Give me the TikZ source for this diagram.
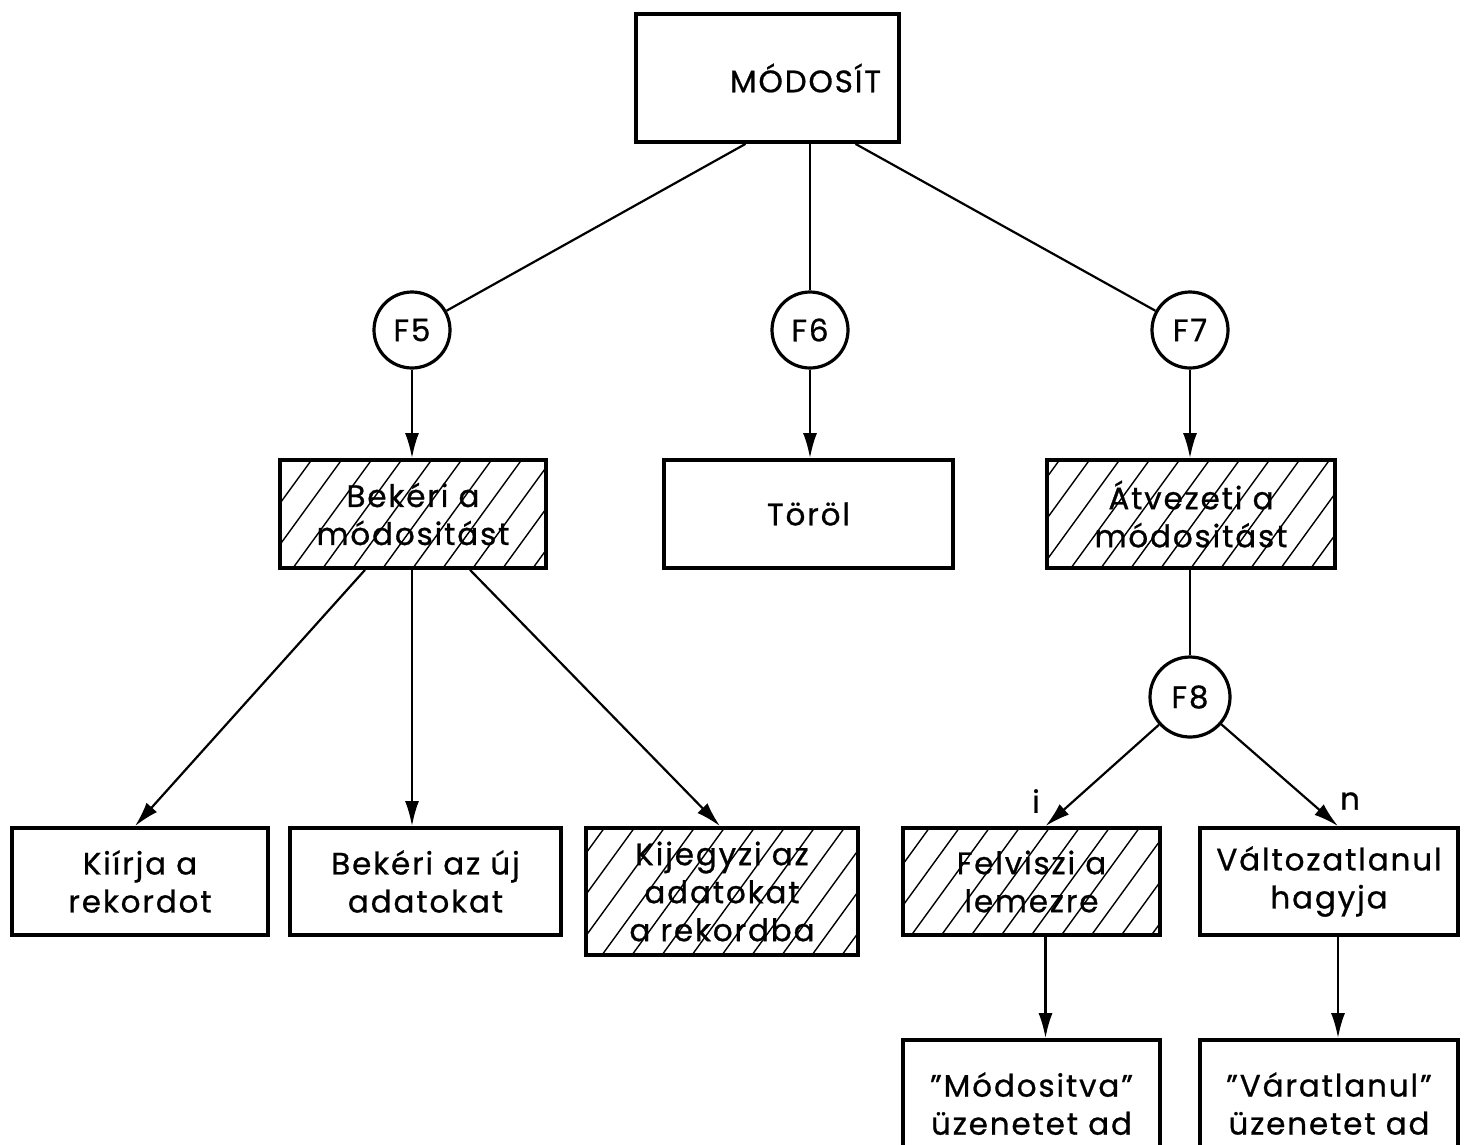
\documentclass[tikz,border=0pt]{standalone}
\usepackage{fontspec}
\setmainfont[LetterSpace=6,FakeBold=0.8]{Poppins}
\usetikzlibrary{arrows.meta}
\begin{document}
\begin{tikzpicture}[x=1pt,y=-1pt,
  txt/.style={align=center,font=\fontsize{31}{38}\selectfont,inner sep=0pt},
  box/.style={txt,draw,line width=3.8pt,minimum width=#1},
  box/.default=260pt,
  hatched/.style={path picture={
      \foreach \k in {-14,...,14}
        \draw[line width=1.4pt]
          ([xshift=\k*30pt]path picture bounding box.south) -- ++(54:260pt);}},
  decision/.style={txt,draw,circle,line width=3.2pt,minimum size=76pt},
  link/.style={line width=2.2pt},
  arrow/.style={link,-{Latex[length=25pt,width=14pt]}}]
\useasboundingbox (0,0) rectangle (1464,1144);

% root
\node[box=263pt,minimum height=128pt] (mod) at (767.5,78) {\hspace*{76pt}MÓDOSÍT};

% decisions
\node[decision] (f5) at (412,330) {F5};
\node[decision] (f6) at (810,330) {F6};
\node[decision] (f7) at (1190,330) {F7};
\node[decision,minimum size=80pt] (f8) at (1190,697) {F8};

% second level
\node[box=266pt,minimum height=108pt,hatched] (bek) at (413,514) {Bekéri a\\módositást};
\node[box=289pt,minimum height=108pt] (tor) at (808.5,514) {Töröl};
\node[box=288pt,minimum height=108pt,hatched] (atv) at (1191,514) {Átvezeti a\\módositást};

% third level
\node[box=256pt,minimum height=107pt] (kii) at (140,881.5) {Kiírja a\\rekordot};
\node[box=271pt,minimum height=107pt] (buj) at (425.5,881.5) {Bekéri az új\\adatokat};
\node[box=272pt,minimum height=127pt,hatched] (kij) at (722,891.5) {Kijegyzi az\\adatokat\\a rekordba};
\node[box=257pt,minimum height=107pt,hatched] (fel) at (1031.5,881.5) {Felviszi a\\lemezre};
\node[box=258pt,minimum height=107pt] (val) at (1329,881.5) {Változatlanul\\hagyja};

% messages
\node[box=257pt,minimum height=110pt,text depth=0pt] (mdv) at (1031.5,1095) {\raisebox{8pt}{\parbox{250pt}{\centering"Módositva"\\üzenetet ad}}};
\node[box=258pt,minimum height=110pt,text depth=0pt] (var) at (1329,1095) {\raisebox{8pt}{\parbox{250pt}{\centering"Váratlanul"\\üzenetet ad}}};

% connectors from the root
\draw[link] ([xshift=-22pt]mod.south) -- (f5);
\draw[link] (f6 |- mod.south) -- (f6);
\draw[link] ([xshift=88pt]mod.south) -- (f7);

% decisions to actions
\draw[arrow] (f5) -- (f5 |- bek.north);
\draw[arrow] (f6) -- (f6 |- tor.north);
\draw[arrow] (f7) -- (f7 |- atv.north);
\draw[link] (f7 |- atv.south) -- (f8);

% Bekéri a módositást branches
\draw[arrow] ([xshift=-48pt]bek.south) -- ([xshift=-5pt]kii.north);
\draw[arrow] (f5 |- bek.south) -- (f5 |- buj.north);
\draw[arrow] ([xshift=57pt]bek.south) -- ([xshift=-2pt]kij.north);

% F8 branches
\draw[arrow] (f8) -- ([xshift=14pt]fel.north);
\draw[arrow] (f8) -- ([xshift=9pt]val.north);
\node[txt] (li) at (1036,801) {i};
\node[txt] (ln) at (1350,801) {n};

\draw[arrow] ([xshift=14pt]fel.south) -- ([xshift=14pt]mdv.north);
\draw[arrow] ([xshift=9pt]val.south) -- ([xshift=9pt]var.north);
\end{tikzpicture}
\end{document}
